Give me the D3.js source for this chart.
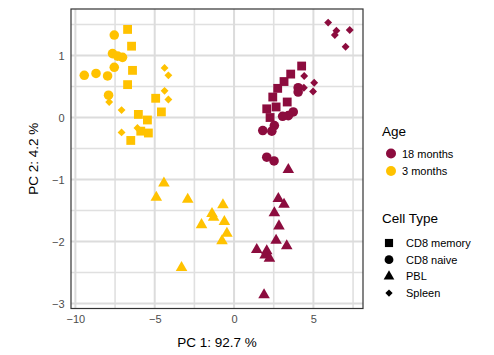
<!DOCTYPE html>
<html>
<head>
<meta charset="utf-8">
<script src="https://cdn.jsdelivr.net/npm/d3@7"></script>
<style>
  body { margin: 0; background: #fff; }
  text { font-family: "Liberation Sans", Arial, sans-serif; }
</style>
</head>
<body>
<div id="chart"></div>
<script>
// PCA scores (PC1, PC2), with sample annotations
const pc1 = [
  // 3 months, CD8 memory
  -6.71, -6.46, -6.40, -6.71, -4.94, -4.58, -6.03, -5.46, -5.88, -5.40, -6.51,
  // 3 months, CD8 naive
  -7.55, -7.66, -7.34, -7.03, -7.55, -9.44, -8.70, -7.97, -7.91,
  // 3 months, Spleen
  -4.38, -4.14, -4.38, -4.14, -7.87, -7.09, -6.09, -7.09,
  // 3 months, PBL
  -4.42, -4.90, -2.92, -1.39, -1.29, -0.70, -0.61, -2.05, -0.45, -0.76, -3.31,
  // 18 months, CD8 memory
  4.26, 3.57, 3.15, 2.75, 2.44, 3.35, 2.06, 2.65, 2.27,
  // 18 months, CD8 naive
  4.04, 4.04, 3.73, 3.42, 3.06, 2.54, 2.38, 1.81, 2.06, 2.52,
  // 18 months, Spleen
  5.93, 6.45, 6.35, 7.29, 7.03, 4.42, 5.05, 4.98, 4.40,
  // 18 months, PBL
  3.42, 2.79, 3.15, 2.54, 2.83, 2.65, 3.32, 1.43, 2.06, 1.96, 2.23, 1.89
];
const pc2 = [
  1.42, 1.15, 0.76, 0.53, 0.31, 0.09, 0.05, -0.04, -0.22, -0.25, -0.37,
  1.33, 1.03, 0.99, 0.97, 0.81, 0.68, 0.71, 0.67, 0.36,
  0.80, 0.68, 0.43, 0.29, 0.25, 0.12, -0.17, -0.24,
  -1.06, -1.29, -1.32, -1.55, -1.61, -1.41, -1.68, -1.73, -1.87, -1.99, -2.42,
  0.83, 0.70, 0.58, 0.47, 0.33, 0.25, 0.14, 0.17, 0.00,
  0.48, 0.41, 0.09, 0.03, 0.02, -0.13, -0.22, -0.21, -0.64, -0.70,
  1.53, 1.40, 1.33, 1.41, 1.14, 0.67, 0.56, 0.42, 0.48,
  -0.84, -1.31, -1.40, -1.54, -1.75, -1.98, -2.07, -2.13, -2.15, -2.22, -2.27, -2.86
];
const groupSizes = [
  ['3 months', 'CD8 memory', 11],
  ['3 months', 'CD8 naive', 9],
  ['3 months', 'Spleen', 8],
  ['3 months', 'PBL', 11],
  ['18 months', 'CD8 memory', 9],
  ['18 months', 'CD8 naive', 10],
  ['18 months', 'Spleen', 9],
  ['18 months', 'PBL', 12]
];

const ageLevels = ['18 months', '3 months'];
const ageColours = ['#8C0C3E', '#FFC200'];
const cellTypes = ['CD8 memory', 'CD8 naive', 'PBL', 'Spleen'];
const xTicks = [-10, -5, 0, 5];
const yTicks = [-3, -2, -1, 0, 1];

// expand annotations into rows
const age = [];
const cellType = [];
groupSizes.forEach(([a, c, n]) => {
  for (let i = 0; i < n; i++) { age.push(a); cellType.push(c); }
});
const data = pc1.map((x, i) => ({ x, y: pc2[i], age: age[i], type: cellType[i] }));

const width = 494;
const height = 355;
const margin = { top: 9, right: 131, bottom: 46.5, left: 71 };

const svg = d3.select('#chart').append('svg')
  .attr('width', width)
  .attr('height', height);

// ggplot-style 5% expansion of the data range
function expanded(vals) {
  const [lo, hi] = d3.extent(vals);
  const pad = (hi - lo) * 0.05;
  return [lo - pad, hi + pad];
}

const x = d3.scaleLinear().domain(expanded(pc1)).range([margin.left, width - margin.right]);
const y = d3.scaleLinear().domain(expanded(pc2)).range([height - margin.bottom, margin.top]);
const colour = d3.scaleOrdinal().domain(ageLevels).range(ageColours);

const symbolFor = {
  'CD8 memory': { type: d3.symbolSquare, size: 78, rotate: 0 },
  'CD8 naive': { type: d3.symbolCircle, size: 72, rotate: 0 },
  'PBL': { type: d3.symbolTriangle, size: 58, rotate: 0 },
  'Spleen': { type: d3.symbolSquare, size: 31, rotate: 45 }
};

// grid
const grid = svg.append('g');
const xMinor = xTicks.map((t) => t + 2.5).concat([xTicks[0] - 2.5]).filter((t) => t > x.domain()[0] && t < x.domain()[1]);
const yMinor = yTicks.map((t) => t + 0.5).concat([yTicks[0] - 0.5]).filter((t) => t > y.domain()[0] && t < y.domain()[1]);

grid.selectAll('.vminor').data(xMinor).enter().append('line')
  .attr('x1', (d) => x(d)).attr('x2', (d) => x(d))
  .attr('y1', y.range()[1]).attr('y2', y.range()[0])
  .attr('stroke', '#e0e0e0').attr('stroke-width', 1.6);
grid.selectAll('.hminor').data(yMinor).enter().append('line')
  .attr('y1', (d) => y(d)).attr('y2', (d) => y(d))
  .attr('x1', x.range()[0]).attr('x2', x.range()[1])
  .attr('stroke', '#e0e0e0').attr('stroke-width', 1.6);
grid.selectAll('.vmajor').data(xTicks).enter().append('line')
  .attr('x1', (d) => x(d)).attr('x2', (d) => x(d))
  .attr('y1', y.range()[1]).attr('y2', y.range()[0])
  .attr('stroke', '#dcdcdc').attr('stroke-width', 2);
grid.selectAll('.hmajor').data(yTicks).enter().append('line')
  .attr('y1', (d) => y(d)).attr('y2', (d) => y(d))
  .attr('x1', x.range()[0]).attr('x2', x.range()[1])
  .attr('stroke', '#dcdcdc').attr('stroke-width', 2);

// points
svg.append('g').selectAll('path')
  .data(data)
  .enter()
  .append('path')
  .attr('transform', (d) => `translate(${x(d.x)},${y(d.y)}) rotate(${symbolFor[d.type].rotate})`)
  .attr('d', (d) => d3.symbol().type(symbolFor[d.type].type).size(symbolFor[d.type].size)())
  .attr('fill', (d) => colour(d.age));

// panel border
svg.append('rect')
  .attr('x', x.range()[0]).attr('y', y.range()[1])
  .attr('width', x.range()[1] - x.range()[0])
  .attr('height', y.range()[0] - y.range()[1])
  .attr('fill', 'none')
  .attr('stroke', '#333')
  .attr('stroke-width', 1.2);

// axes (no visible tick marks in the reference)
const fmt = d3.format('');
const xAxis = svg.append('g')
  .attr('transform', `translate(0,${y.range()[0]})`)
  .call(d3.axisBottom(x).tickValues(xTicks).tickFormat(fmt).tickSize(0).tickPadding(6.5));
const yAxis = svg.append('g')
  .attr('transform', `translate(${x.range()[0]},0)`)
  .call(d3.axisLeft(y).tickValues(yTicks).tickFormat(fmt).tickSize(0).tickPadding(6.5));
[xAxis, yAxis].forEach((ax) => {
  ax.select('.domain').remove();
  ax.selectAll('.tick line').remove();
  ax.selectAll('.tick text')
    .attr('fill', '#4d4d4d')
    .style('font-size', '11px')
    .style('font-family', '"Liberation Sans", Arial, sans-serif');
});

svg.append('text')
  .attr('x', (x.range()[0] + x.range()[1]) / 2)
  .attr('y', 347)
  .attr('text-anchor', 'middle')
  .style('font-size', '13.5px')
  .text('PC 1: 92.7 %');

svg.append('text')
  .attr('transform', `translate(38,${(y.range()[0] + y.range()[1]) / 2}) rotate(-90)`)
  .attr('text-anchor', 'middle')
  .style('font-size', '13.5px')
  .text('PC 2: 4.2 %');

// legends
const legend = svg.append('g');
legend.append('text').attr('x', 382).attr('y', 136).style('font-size', '13.5px').text('Age');
ageLevels.forEach((a, i) => {
  const cy = 153.5 + i * 17.5;
  legend.append('circle').attr('cx', 391).attr('cy', cy).attr('r', 5).attr('fill', colour(a));
  legend.append('text').attr('x', 402).attr('y', cy + 4).style('font-size', '11px').text(a);
});

legend.append('text').attr('x', 382).attr('y', 223).style('font-size', '13.5px').text('Cell Type');
cellTypes.forEach((c, i) => {
  const cy = 243 + i * 16.7;
  const s = symbolFor[c];
  legend.append('path')
    .attr('transform', `translate(389,${cy}) rotate(${s.rotate})`)
    .attr('d', d3.symbol().type(s.type).size(s.size * 0.85)())
    .attr('fill', '#000');
  legend.append('text').attr('x', 406).attr('y', cy + 4).style('font-size', '11px').text(c);
});
</script>
</body>
</html>
